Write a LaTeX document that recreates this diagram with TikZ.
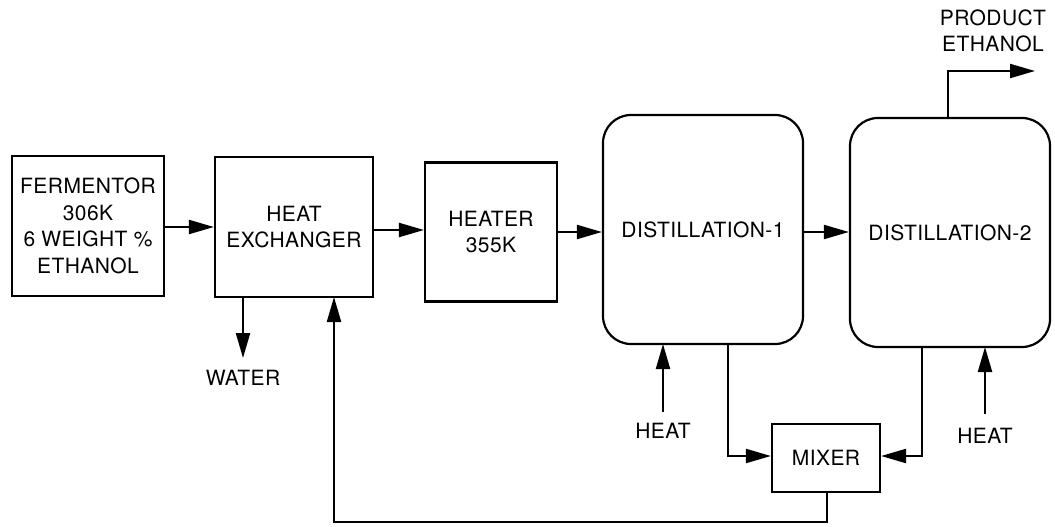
\documentclass[tikz,border=0pt]{standalone}
\usepackage{fontspec}
\setmainfont{TeX Gyre Heros}[LetterSpace=2]
\usetikzlibrary{arrows.meta,calc}
\begin{document}
\begin{tikzpicture}[x=1pt,y=-1pt,
  every node/.style={font=\fontsize{21}{26.5}\selectfont, inner sep=0pt, align=center},
  blk/.style={draw, line width=2.2pt},
  col/.style={blk, rounded corners=28pt},
  flow/.style={line width=2.2pt, -{Triangle[length=25pt,width=14pt]}},
  pipe/.style={line width=2.2pt}]
\useasboundingbox (0,0) rectangle (1055,527);
% boxes
\node[blk, minimum width=152pt, minimum height=140pt] (ferm) at (88,226) {FERMENTOR\\306K\\6 WEIGHT \%\\ETHANOL};
\node[blk, minimum width=158pt, minimum height=140pt] (hx) at (294,227) {HEAT\\EXCHANGER};
\node[blk, minimum width=132pt, minimum height=139pt] (heater) at (491,232) {HEATER\\355K};
\node[col, minimum width=200pt, minimum height=229pt] (d1) at (703,229.5) {DISTILLATION-1};
\node[col, minimum width=200pt, minimum height=229pt] (d2) at (950,232.5) {DISTILLATION-2};
\node[blk, minimum width=108pt, minimum height=68pt] (mix) at (826,458) {MIXER};
% labels
\node (water) at (243,378) {WATER};
\node (heat1) at (663,431) {HEAT};
\node (heat2) at (985,436) {HEAT};
\node (prod) at (993,31) {PRODUCT\\ETHANOL};
% coordinates
\coordinate (w1) at (243,297);
\coordinate (w2) at (243,358);
\coordinate (h1a) at (663,412);
\coordinate (h1b) at (663,344);
\coordinate (h2a) at (985,414);
\coordinate (h2b) at (985,347);
\coordinate (p0) at (948,118);
\coordinate (p1) at (948,71);
\coordinate (p2) at (1035,71);
\coordinate (d1o) at (728,344);
\coordinate (d2o) at (922,347);
\coordinate (m1) at (728,456);
\coordinate (m2) at (922,456);
\coordinate (r0) at (827,492);
\coordinate (r1) at (827,522);
\coordinate (r2) at (334,522);
\coordinate (r3) at (334,297);
% flows
\draw[flow] (ferm.east |- 0,227) -- (hx.west |- 0,227);
\draw[flow] (hx.east |- 0,230) -- (heater.west |- 0,230);
\draw[flow] (heater.east |- 0,232) -- (d1.west |- 0,232);
\draw[flow] (d1.east |- 0,232) -- (d2.west |- 0,232);
\draw[flow] (w1) -- (w2);
\draw[flow] (h1a) -- (h1b);
\draw[flow] (h2a) -- (h2b);
\draw[flow] (p0) -- (p1) -- (p2);
\draw[flow] (d1o) -- (m1) -- (mix.west |- m1);
\draw[flow] (d2o) -- (m2) -- (mix.east |- m2);
\draw[flow] (r0) -- (r1) -- (r2) -- (r3);
\end{tikzpicture}
\end{document}
